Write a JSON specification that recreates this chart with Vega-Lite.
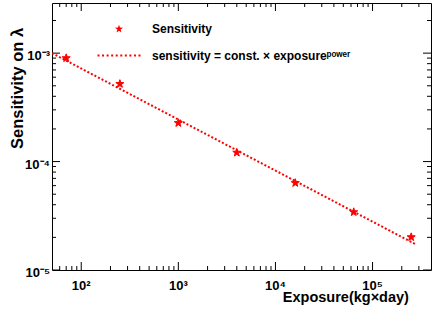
{
  "$schema": "https://vega.github.io/schema/vega-lite/v6.json",
  "width": 379,
  "height": 267,
  "autosize": {"type": "none"},
  "padding": {"left": 52, "top": 3, "right": 5, "bottom": 52},
  "background": "white",
  "config": {
    "view": {"stroke": "black", "strokeWidth": 1},
    "font": "Liberation Sans"
  },
  "datasets": {
    "meas": [
      {"exposure": 70, "sensitivity": 0.0009, "series": "Sensitivity"},
      {"exposure": 250, "sensitivity": 0.00052, "series": "Sensitivity"},
      {"exposure": 1000, "sensitivity": 0.000227, "series": "Sensitivity"},
      {"exposure": 4000, "sensitivity": 0.000121, "series": "Sensitivity"},
      {"exposure": 16000, "sensitivity": 0.0000635, "series": "Sensitivity"},
      {"exposure": 64000, "sensitivity": 0.0000342, "series": "Sensitivity"},
      {"exposure": 250000, "sensitivity": 0.0000201, "series": "Sensitivity"}
    ],
    "fit": [
      {"exposure": 50, "sensitivity": 0.001},
      {"exposure": 280000, "sensitivity": 0.0000172}
    ],
    "xticks": [
      {"v": 60, "kind": "minor"}, {"v": 70, "kind": "minor"}, {"v": 80, "kind": "minor"}, {"v": 90, "kind": "minor"},
      {"v": 100, "kind": "major"},
      {"v": 200, "kind": "minor"}, {"v": 300, "kind": "minor"}, {"v": 400, "kind": "minor"}, {"v": 500, "kind": "minor"},
      {"v": 600, "kind": "minor"}, {"v": 700, "kind": "minor"}, {"v": 800, "kind": "minor"}, {"v": 900, "kind": "minor"},
      {"v": 1000, "kind": "major"},
      {"v": 2000, "kind": "minor"}, {"v": 3000, "kind": "minor"}, {"v": 4000, "kind": "minor"}, {"v": 5000, "kind": "minor"},
      {"v": 6000, "kind": "minor"}, {"v": 7000, "kind": "minor"}, {"v": 8000, "kind": "minor"}, {"v": 9000, "kind": "minor"},
      {"v": 10000, "kind": "major"},
      {"v": 20000, "kind": "minor"}, {"v": 30000, "kind": "minor"}, {"v": 40000, "kind": "minor"}, {"v": 50000, "kind": "minor"},
      {"v": 60000, "kind": "minor"}, {"v": 70000, "kind": "minor"}, {"v": 80000, "kind": "minor"}, {"v": 90000, "kind": "minor"},
      {"v": 100000, "kind": "major"},
      {"v": 200000, "kind": "minor"}, {"v": 300000, "kind": "minor"}
    ],
    "yticks": [
      {"v": 0.00001, "kind": "major"},
      {"v": 0.00002, "kind": "minor"}, {"v": 0.00003, "kind": "minor"}, {"v": 0.00004, "kind": "minor"}, {"v": 0.00005, "kind": "minor"},
      {"v": 0.00006, "kind": "minor"}, {"v": 0.00007, "kind": "minor"}, {"v": 0.00008, "kind": "minor"}, {"v": 0.00009, "kind": "minor"},
      {"v": 0.0001, "kind": "major"},
      {"v": 0.0002, "kind": "minor"}, {"v": 0.0003, "kind": "minor"}, {"v": 0.0004, "kind": "minor"}, {"v": 0.0005, "kind": "minor"},
      {"v": 0.0006, "kind": "minor"}, {"v": 0.0007, "kind": "minor"}, {"v": 0.0008, "kind": "minor"}, {"v": 0.0009, "kind": "minor"},
      {"v": 0.001, "kind": "major"},
      {"v": 0.002, "kind": "minor"}
    ],
    "xlabels": [
      {"v": 100, "label": "10²"}, {"v": 1000, "label": "10³"}, {"v": 10000, "label": "10⁴"}, {"v": 100000, "label": "10⁵"}
    ],
    "ylabels": [
      {"v": 0.00001, "label": "10⁻⁵"}, {"v": 0.0001, "label": "10⁻⁴"}, {"v": 0.001, "label": "10⁻³"}
    ]
  },
  "layer": [
    {
      "data": {"name": "xticks"},
      "mark": {"type": "tick", "orient": "vertical", "color": "black", "thickness": 1, "opacity": 1, "clip": true},
      "encoding": {
        "x": {"field": "v", "type": "quantitative", "axis": null,
          "scale": {"type": "log", "domain": [50, 400000], "nice": false}},
        "y": {"datum": 0.00001, "type": "quantitative", "axis": null,
          "scale": {"type": "log", "domain": [0.00001, 0.0029], "nice": false}},
        "size": {"field": "kind", "type": "nominal", "scale": {"domain": ["major", "minor"], "range": [16, 8]}, "legend": null}
      }
    },
    {
      "data": {"name": "xticks"},
      "mark": {"type": "tick", "orient": "vertical", "color": "black", "thickness": 1, "opacity": 1, "clip": true},
      "encoding": {
        "x": {"field": "v", "type": "quantitative", "axis": null},
        "y": {"datum": 0.0029, "type": "quantitative", "axis": null},
        "size": {"field": "kind", "type": "nominal", "scale": {"domain": ["major", "minor"], "range": [16, 8]}, "legend": null}
      }
    },
    {
      "data": {"name": "yticks"},
      "mark": {"type": "tick", "orient": "horizontal", "color": "black", "thickness": 1, "opacity": 1, "clip": true},
      "encoding": {
        "y": {"field": "v", "type": "quantitative", "axis": null},
        "x": {"datum": 50, "type": "quantitative", "axis": null},
        "size": {"field": "kind", "type": "nominal", "scale": {"domain": ["major", "minor"], "range": [22, 12]}, "legend": null}
      }
    },
    {
      "data": {"name": "yticks"},
      "mark": {"type": "tick", "orient": "horizontal", "color": "black", "thickness": 1, "opacity": 1, "clip": true},
      "encoding": {
        "y": {"field": "v", "type": "quantitative", "axis": null},
        "x": {"datum": 400000, "type": "quantitative", "axis": null},
        "size": {"field": "kind", "type": "nominal", "scale": {"domain": ["major", "minor"], "range": [22, 12]}, "legend": null}
      }
    },
    {
      "data": {"name": "xlabels"},
      "mark": {"type": "text", "font": "Liberation Sans", "fontWeight": "bold", "fontSize": 13, "color": "black", "align": "center", "baseline": "alphabetic"},
      "encoding": {
        "x": {"field": "v", "type": "quantitative", "axis": null},
        "y": {"datum": 0.00000655, "type": "quantitative", "axis": null},
        "text": {"field": "label", "type": "nominal"}
      }
    },
    {
      "data": {"name": "ylabels"},
      "mark": {"type": "text", "font": "Liberation Sans", "fontWeight": "bold", "fontSize": 13, "color": "black", "align": "right", "baseline": "middle", "dy": 3},
      "encoding": {
        "y": {"field": "v", "type": "quantitative", "axis": null},
        "x": {"datum": 47.7, "type": "quantitative", "axis": null},
        "text": {"field": "label", "type": "nominal"}
      }
    },
    {
      "data": {"values": [{"title": "Exposure(kg×day)"}]},
      "mark": {"type": "text", "font": "Liberation Sans", "fontWeight": "bold", "fontSize": 14.5, "color": "black", "align": "right", "baseline": "alphabetic"},
      "encoding": {
        "x": {"datum": 237000, "type": "quantitative", "axis": null},
        "y": {"datum": 0.00000512, "type": "quantitative", "axis": null},
        "text": {"field": "title", "type": "nominal"}
      }
    },
    {
      "data": {"values": [{"title": "Sensitivity on λ"}]},
      "mark": {"type": "text", "font": "Liberation Sans", "fontWeight": "bold", "fontSize": 16.5, "color": "black", "align": "right", "baseline": "alphabetic", "angle": 270},
      "encoding": {
        "x": {"datum": 25.2, "type": "quantitative", "axis": null},
        "y": {"datum": 0.00171, "type": "quantitative", "axis": null},
        "text": {"field": "title", "type": "nominal"}
      }
    },
    {
      "data": {"name": "fit"},
      "mark": {"type": "line", "color": "#ff0000", "strokeWidth": 2, "strokeDash": [2, 2], "clip": true},
      "encoding": {
        "x": {"field": "exposure", "type": "quantitative", "axis": null},
        "y": {"field": "sensitivity", "type": "quantitative", "axis": null}
      }
    },
    {
      "data": {"name": "meas"},
      "mark": {"type": "point", "filled": true, "fill": "#ff0000", "stroke": "#ff0000", "strokeWidth": 1, "opacity": 1, "size": 100},
      "encoding": {
        "x": {"field": "exposure", "type": "quantitative", "axis": null},
        "y": {"field": "sensitivity", "type": "quantitative", "axis": null},
        "shape": {"field": "series", "type": "nominal",
          "scale": {"domain": ["Sensitivity", "sensitivity = const. × exposureᵖᵒʷᵉʳ"],
            "range": ["M0,-0.85L0.1998,-0.2751L0.8084,-0.2627L0.3234,0.1051L0.4996,0.6877L0,0.34L-0.4996,0.6877L-0.3234,0.1051L-0.8084,-0.2627L-0.1998,-0.2751Z",
                      "M-4.3,-0.2L-3.9,-0.2L-3.9,0.2L-4.3,0.2ZM-3.389,-0.2L-2.989,-0.2L-2.989,0.2L-3.389,0.2ZM-2.478,-0.2L-2.078,-0.2L-2.078,0.2L-2.478,0.2ZM-1.567,-0.2L-1.167,-0.2L-1.167,0.2L-1.567,0.2ZM-0.656,-0.2L-0.256,-0.2L-0.256,0.2L-0.656,0.2ZM0.256,-0.2L0.656,-0.2L0.656,0.2L0.256,0.2ZM1.167,-0.2L1.567,-0.2L1.567,0.2L1.167,0.2ZM2.078,-0.2L2.478,-0.2L2.478,0.2L2.078,0.2ZM2.989,-0.2L3.389,-0.2L3.389,0.2L2.989,0.2ZM3.9,-0.2L4.3,-0.2L4.3,0.2L3.9,0.2Z"]},
          "legend": {"title": null, "orient": "none", "legendX": 61, "legendY": 20, "padding": 0,
            "symbolSize": 100, "symbolFillColor": "#ff0000", "symbolStrokeColor": "#ff0000", "symbolStrokeWidth": 0.5, "symbolOpacity": 1,
            "labelFont": "Liberation Sans", "labelFontWeight": "bold", "labelFontSize": 12, "labelColor": "black", "labelOffset": 27, "rowPadding": 14.5, "labelLimit": 400,
            "encode": {"symbols": {"fill": {"value": "#ff0000"}, "opacity": {"value": 1}, "fillOpacity": {"value": 1}}}}}
      }
    }
  ]
}
